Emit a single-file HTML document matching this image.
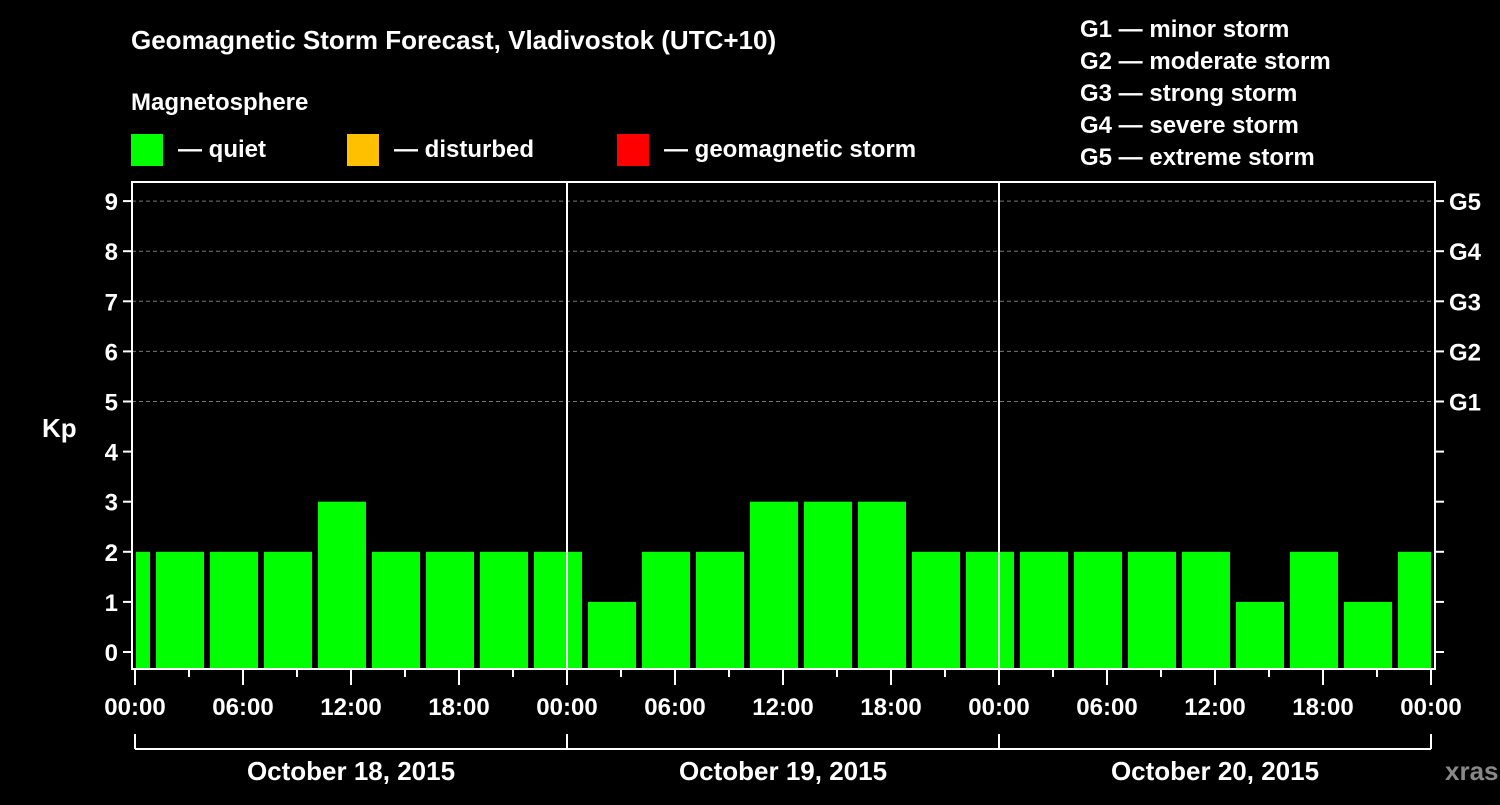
<!DOCTYPE html>
<html><head><meta charset="utf-8"><style>
body{margin:0;background:#000;}
svg text{font-family:"Liberation Sans",Arial,sans-serif;font-weight:bold;fill:#fff;}
</style></head><body>
<svg id="chart" width="1500" height="800" viewBox="0 0 1500 800" xmlns="http://www.w3.org/2000/svg">
<rect width="1500" height="800" fill="#000"/>
<text x="131" y="49" font-size="26">Geomagnetic Storm Forecast, Vladivostok (UTC+10)</text>
<text x="131" y="110" font-size="24">Magnetosphere</text>
<g><rect x="131" y="134" width="32" height="32" fill="#00ff00"/><text x="178" y="157" font-size="24">— quiet</text></g>
<g><rect x="347" y="134" width="32" height="32" fill="#ffc000"/><text x="394" y="157" font-size="24">— disturbed</text></g>
<g><rect x="617" y="134" width="32" height="32" fill="#ff0000"/><text x="664" y="157" font-size="24">— geomagnetic storm</text></g>
<g font-size="24">
<text x="1080" y="37">G1 — minor storm</text>
<text x="1080" y="69">G2 — moderate storm</text>
<text x="1080" y="101">G3 — strong storm</text>
<text x="1080" y="133">G4 — severe storm</text>
<text x="1080" y="165">G5 — extreme storm</text>
</g>
<g id="grid"></g>
<g id="bars"></g>
<g id="axes"></g>
<text x="42" y="437" font-size="26">Kp</text>
<text x="1445" y="780" font-size="26" style="fill:#888">xras.ru</text>
</svg>
<script>
const kpStartHours = [-2,1,4,7,10,13,16,19,22,25,28,31,34,37,40,43,46,49,52,55,58,61,64,67,70];
const kpValues = [2,2,2,2,3,2,2,2,2,1,2,2,3,3,3,2,2,2,2,2,2,1,2,1,2];
const yTicks = [0,1,2,3,4,5,6,7,8,9];
const gLabels = ["G1","G2","G3","G4","G5"];
const hourLabels = ["00:00","06:00","12:00","18:00","00:00","06:00","12:00","18:00","00:00","06:00","12:00","18:00","00:00"];
const dayLabels = ["October 18, 2015","October 19, 2015","October 20, 2015"];

const NS="http://www.w3.org/2000/svg";
const X0=135, PX_H=18, Y0=652, PX_K=50.1, TOP=182, BOT=669, LEFT=132, RIGHT=1435;
const x = h => X0 + h*PX_H;
const y = k => Y0 - k*PX_K;
function mk(tag, attrs, parent){const e=document.createElementNS(NS,tag);for(const k in attrs)e.setAttribute(k,attrs[k]);parent.appendChild(e);return e;}
const grid=document.getElementById('grid'), bars=document.getElementById('bars'), axes=document.getElementById('axes');

yTicks.forEach(k=>{
  if(k>=5){const l=mk('line',{x1:LEFT,x2:RIGHT,y1:y(k),y2:y(k),stroke:'#777','stroke-dasharray':'4,3','stroke-width':1},grid);
  
  }
  mk('line',{x1:LEFT-9,x2:LEFT,y1:y(k),y2:y(k),stroke:'#fff','stroke-width':2},axes);
  mk('line',{x1:RIGHT,x2:RIGHT+9,y1:y(k),y2:y(k),stroke:'#fff','stroke-width':2},axes);
  const t=mk('text',{x:LEFT-14,y:y(k)+9,'font-size':24,'text-anchor':'end'},axes);t.textContent=k;
  
  
  if(k>=5){const g=mk('text',{x:RIGHT+14,y:y(k)+9,'font-size':24},axes);g.textContent=gLabels[k-5];
  
  }
});

kpValues.forEach((v,i)=>{
  let a=x(kpStartHours[i])+3, b=x(kpStartHours[i]+3)-3;
  a=Math.max(a,x(0)+1); b=Math.min(b,x(72));
  const c = v>=5?'#ff0000':(v>=4?'#ffc000':'#00ff00');
  const r=mk('rect',{x:a,y:y(v),width:b-a,height:BOT-1-y(v),fill:c},bars);
  
  
});

mk('rect',{x:LEFT,y:TOP,width:RIGHT-LEFT,height:BOT-TOP,fill:'none',stroke:'#fff','stroke-width':2},axes);
[24,48].forEach(h=>mk('line',{x1:x(h),x2:x(h),y1:TOP,y2:BOT,stroke:'#fff','stroke-width':2},axes));
for(let h=0;h<=72;h+=3){
  const long=h%6===0;
  mk('line',{x1:x(h),x2:x(h),y1:BOT,y2:BOT+(long?16:8),stroke:'#fff','stroke-width':2},axes);
}
hourLabels.forEach((s,i)=>{const t=mk('text',{x:x(i*6),y:715,'font-size':24,'text-anchor':'middle'},axes);t.textContent=s;
  
  });
mk('line',{x1:x(0),x2:x(72),y1:749,y2:749,stroke:'#fff','stroke-width':2},axes);
[0,24,48,72].forEach(h=>mk('line',{x1:x(h),x2:x(h),y1:734,y2:749,stroke:'#fff','stroke-width':2},axes));
dayLabels.forEach((s,i)=>{const t=mk('text',{x:x(i*24+12),y:780,'font-size':26,'text-anchor':'middle'},axes);t.textContent=s;
  
  });
</script>
</body></html>
